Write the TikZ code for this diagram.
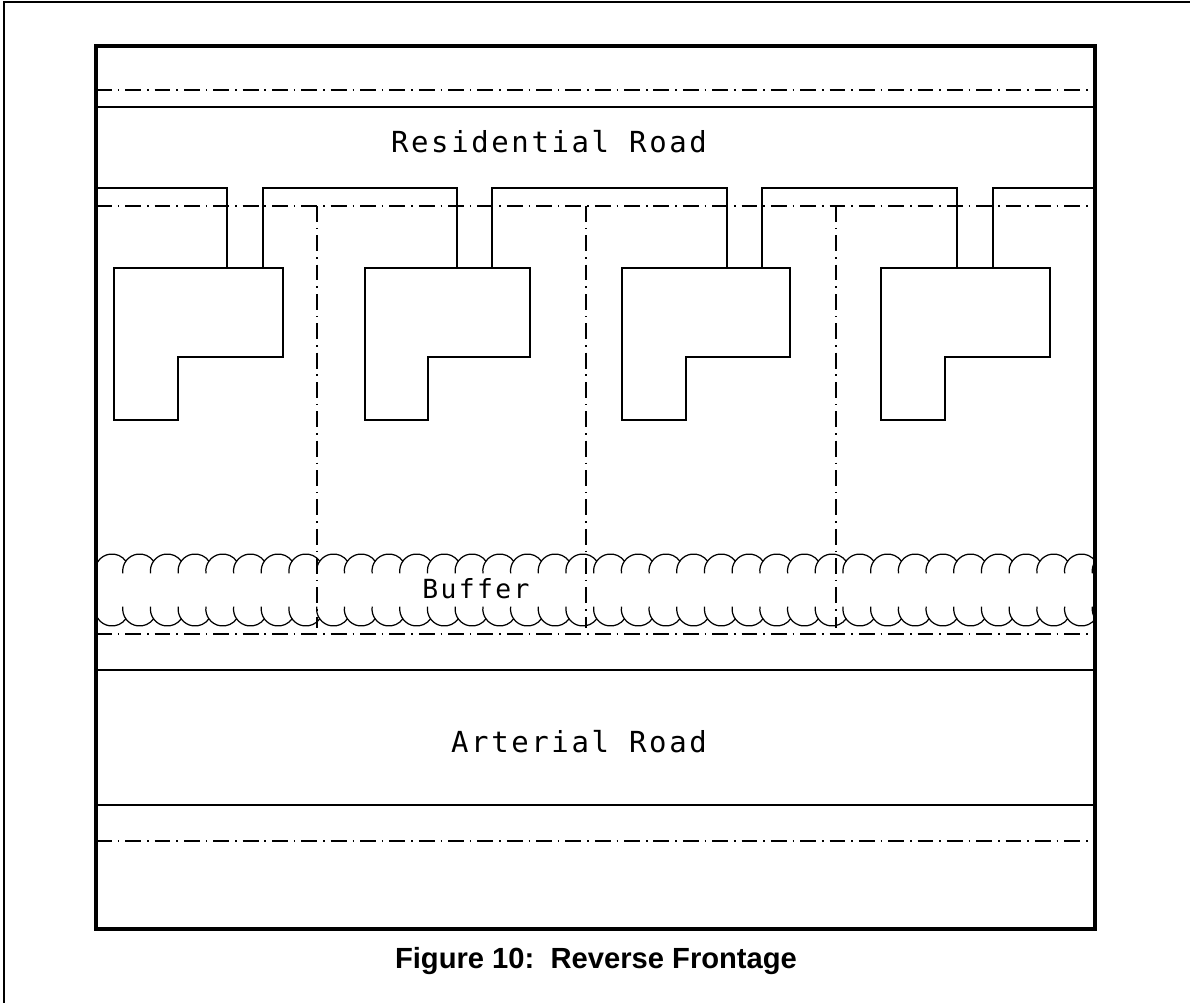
\documentclass[tikz,border=0pt]{standalone}
\usepackage{fontspec}
\setmainfont{Liberation Sans}
\newfontfamily\cadfont[LetterSpace=9]{DejaVu Sans Mono}

\begin{document}
\begin{tikzpicture}[x=0.02cm, y=-0.02cm, line width=0.8pt,
    centerline/.style={dash pattern=on 9pt off 3.4pt on 0.9pt off 3.4pt},
    frame/.style={line width=2.8pt},
    tree/.style={line width=0.7pt},
    roadlabel/.style={anchor=base, font=\cadfont\fontsize{16.5}{17}\selectfont}]
    \useasboundingbox (0,0) rectangle (1190,1003);
    \draw (1190,2) -- (4,2) -- (4,1003);

    \draw[centerline] (96,90) -- (1095,90);
    \draw (96,107) -- (1095,107);
    \node[roadlabel] (resroad) at (549,153) {Residential Road};
    \draw (96,188) -- (227,188) -- (227,268)
        (263,268) -- (263,188) -- (457,188) -- (457,268)
        (492,268) -- (492,188) -- (727,188) -- (727,268)
        (762,268) -- (762,188) -- (957,188) -- (957,268)
        (993,268) -- (993,188) -- (1095,188);
    \draw[centerline] (96,206) -- (1095,206);

    \foreach \l/\n/\r in {114/178/283, 365/428/530, 622/686/790, 881/945/1050}
        \draw (\l,268) -- (\r,268) -- (\r,357) -- (\n,357) -- (\n,420) -- (\l,420) -- cycle;
    \foreach \x in {317,586,836}
        \draw[centerline] (\x,206) -- (\x,628);

    \begin{scope}
        \clip (96,540) rectangle (1095,640);
        \foreach \k in {-1,...,36} {
            \draw[tree] ({112+27.7*\k},571) ++(172:17) arc[start angle=172, end angle=326, radius=17];
            \draw[tree] ({112+27.7*\k},609) ++(188:17) arc[start angle=188, end angle=34, radius=17];
        }
    \end{scope}
    \node[roadlabel, font=\cadfont\fontsize{15}{16}\selectfont] (buffer) at (476,598) {Buffer};
    \draw[centerline] (96,634) -- (1095,634);

    \draw (96,670) -- (1095,670);
    \node[roadlabel] (artroad) at (579,752) {Arterial Road};
    \draw (96,805) -- (1095,805);
    \draw[centerline] (96,841) -- (1095,841);

    \draw[frame] (96,46) rectangle (1095,929);
    \node[anchor=base, font=\bfseries\fontsize{16.6}{18}\selectfont] (caption) at (596,968) {Figure 10:\ \ Reverse Frontage};
\end{tikzpicture}
\end{document}
